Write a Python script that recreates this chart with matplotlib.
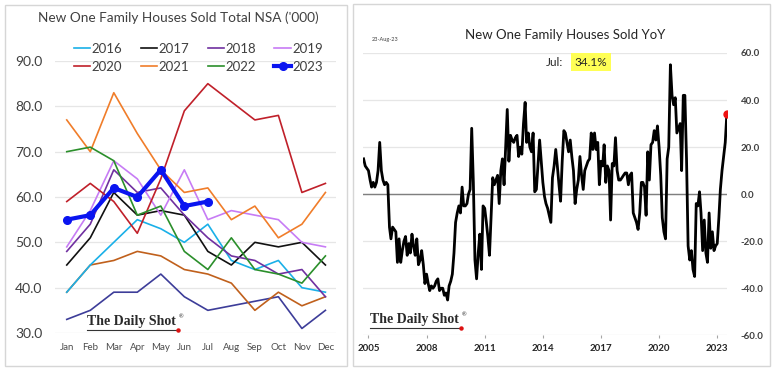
import matplotlib
matplotlib.use("Agg")
import matplotlib.pyplot as plt
from matplotlib.patches import Rectangle
import pandas as pd

plt.rcParams['font.family'] = ['Lato', 'DejaVu Sans']

# ---- left panel data: monthly new one family houses sold, NSA ('000)
months = ["Jan", "Feb", "Mar", "Apr", "May", "Jun", "Jul", "Aug", "Sep", "Oct", "Nov", "Dec"]
sold_2014 = [33, 35, 39, 39, 43, 38, 35, 36, 37, 38, 31, 35]
sold_2015 = [39, 45, 46, 48, 47, 44, 43, 41, 35, 39, 36, 38]
sold_2016 = [39, 45, 50, 55, 53, 50, 54, 46, 44, 46, 40, 39]
sold_2017 = [45, 51, 61, 56, 57, 56, 48, 45, 50, 49, 50, 45]
sold_2018 = [48, 54, 66, 61, 62, 56, 51, 47, 46, 43, 44, 38]
sold_2019 = [49, 57, 68, 64, 56, 66, 55, 57, 56, 55, 50, 49]
sold_2020 = [59, 63, 59, 52, 64, 79, 85, 81, 77, 78, 61, 63]
sold_2021 = [77, 70, 83, 74, 66, 61, 62, 55, 58, 51, 54, 61]
sold_2022 = [70, 71, 68, 56, 58, 48, 44, 51, 44, 43, 41, 47]
sold_2023 = [55, 56, 62, 60, 66, 58, 59]

# ---- right panel data: YoY % change, monthly from Oct 2004 to Jul 2023
yoy_start = "2004-10-01"
yoy = [15, 12, 11,
       10, 6, 3, 5, 3, 5, 10, 22, 10, 6, 4, 5,
       4, -14, -19, -14, -15, -16, -29, -19, -29, -24, -20, -18,
       -26, -21, -25, -17, -22, -26, -19, -30, -28, -24, -30, -38,
       -34, -38, -41, -39, -40, -39, -37, -36, -41, -40, -40, -43,
       -42, -45, -39, -37, -34, -25, -12, -8, -5, -8, 3, -5,
       -5, -4, 0, 2, 28, 5, -28, -36, -25, -17, -32, -5,
       -6, -12, -18, -26, -10, 7, 4, 6, 8, -4, 10, 15,
       4, 20, 36, 14, 25, 23, 22, 24, 25, 16, 20, 17,
       30, 39, 22, 26, 20, 18, 26, 1, 2, 12, 23, 14,
       5, -1, -4, -6, -9, -12, 7, 12, 19, 12, 4, -3,
       14, 27, 26, 22, 18, 23, 16, 10, -4, 2, 6, 16,
       8, 2, 10, 12, 14, 15, 26, 19, 26, 19, 22, 4,
       14, 12, 21, 5, 12, 10, -11, 13, 12, 24, 10, 6,
       6, 7, 8, 9, 9, 4, 8, 9, -8, -10, -12, -15,
       -8, 5, 5, 3, -9, 18, 6, 21, 22, 27, 23, 29,
       20, 8, -10, -16, -19, 15, 20, 55, 42, 38, 41, 26,
       28, 30, 10, 42, 42, 15, -22, -28, -24, -32, -35, -4,
       -5, 1, -8, -24, -11, -25, -29, -8, -23, -16, -24, -22,
       -21, -10, 2, 10, 16, 22, 34.1]
yoy_ticks = ["2005", "2008", "2011", "2014", "2017", "2020", "2023"]

W, H = 780, 373
fig = plt.figure(figsize=(W / 100, H / 100), dpi=100)

def fx(px):
    return px / W

def fy(py):
    return 1 - py / H

# panel frames
fig.patches.append(Rectangle((fx(5), fy(366)), fx(342), 361 / H, transform=fig.transFigure,
                             fill=False, ec="#d6d6d6", lw=1))
fig.patches.append(Rectangle((fx(353), fy(366)), fx(417), 362 / H, transform=fig.transFigure,
                             fill=False, ec="#d6d6d6", lw=1))

# ================= left panel =================
ax1 = fig.add_axes([fx(55), fy(333), fx(336 - 55), (333 - 61) / H])
series = [
    (None, sold_2014, "#3d3d99"),
    (None, sold_2015, "#c0601c"),
    ("2016", sold_2016, "#1ab0e8"),
    ("2017", sold_2017, "#111111"),
    ("2018", sold_2018, "#7030a0"),
    ("2019", sold_2019, "#c77cf5"),
    ("2020", sold_2020, "#c0202a"),
    ("2021", sold_2021, "#f07d2a"),
    ("2022", sold_2022, "#2b8f2b"),
]
handles = {}
for lab, vals, col in series:
    ln, = ax1.plot(months[:len(vals)], vals, color=col, lw=1.2)
    if lab:
        ln.set_label(lab)
        handles[lab] = ln
ln, = ax1.plot(months[:len(sold_2023)], sold_2023, color="#0a14f0", lw=3.0,
               marker="o", ms=5.5, label="2023")
handles["2023"] = ln

ax1.set_ylim(30, 90)
ax1.set_xlim(-0.5, 11.45)
ax1.set_yticks(range(30, 91, 10))
ax1.set_yticklabels([f"{v:.1f}" for v in range(30, 91, 10)])
ax1.grid(axis="y", color="#e6e6e6", lw=0.9)
ax1.set_axisbelow(True)
for s in ax1.spines.values():
    s.set_visible(False)
ax1.tick_params(axis="y", length=0, labelsize=10, labelcolor="#404040", pad=9)
ax1.tick_params(axis="x", length=0, labelsize=7, labelcolor="#4d4d4d", pad=7)

# legend is filled column by column: order so rows read 2016..2019 / 2020..2023
leg_order = ["2016", "2020", "2017", "2021", "2018", "2022", "2019", "2023"]
ax1.legend(handles=[handles[k] for k in leg_order], loc="upper left",
           bbox_to_anchor=(fx(67), fy(36)), bbox_transform=fig.transFigure, ncol=4,
           frameon=False, fontsize=9.5, handlelength=1.25, handletextpad=0.1,
           columnspacing=1.4, labelspacing=0.45, borderpad=0, labelcolor="#404040")

fig.text(fx(178), fy(18), "New One Family Houses Sold Total NSA ('000)", ha="center",
         va="center", fontsize=9.8, color="#404040")

# ================= right panel =================
ax2 = fig.add_axes([fx(363), fy(335.3), fx(727 - 363), (335.3 - 53) / H])
dates = pd.date_range(yoy_start, periods=len(yoy), freq="MS")
ax2.plot(dates, yoy, color="black", lw=2.0, zorder=3)
ax2.plot(dates[-1:], yoy[-1:], "o", color="#ee1111", ms=5, zorder=4)
ax2.axhline(0, color="#7f7f7f", lw=1.0, zorder=2)
ax2.set_ylim(-60, 60)
ax2.set_xlim(pd.Timestamp("2004-09-20"), dates[-1] + pd.Timedelta(days=3))
ax2.set_yticks(range(-60, 61, 20))
ax2.set_yticklabels([f"{v:.1f}" for v in range(-60, 61, 20)])
ax2.yaxis.tick_right()
ax2.set_xticks([pd.Timestamp(f"{y}-01-01") for y in yoy_ticks])
ax2.set_xticklabels(yoy_ticks)
ax2.grid(axis="y", color="#e6e6e6", lw=0.9)
ax2.set_axisbelow(True)
for s in ax2.spines.values():
    s.set_visible(False)
ax2.tick_params(axis="y", length=0, labelsize=7, labelcolor="#404040", pad=10)
ax2.tick_params(axis="x", length=2.5, color="#a6a6a6", labelsize=7, labelcolor="#262626", pad=4)
for t in ax2.get_xticklabels() + ax2.get_yticklabels():
    t.set_fontweight("bold")

fig.text(fx(565), fy(35), "New One Family Houses Sold YoY", ha="center", va="center",
         fontsize=9.5, color="#262626")
fig.text(fx(372), fy(40), "23-Aug-23", ha="left", va="center", fontsize=4, color="#404040")
fig.text(fx(555), fy(62), "Jul:", ha="center", va="center", fontsize=8.5, color="#262626")
fig.text(fx(591), fy(62), "34.1%", ha="center", va="center", fontsize=8.5, color="#262626",
         bbox=dict(boxstyle="square,pad=0.3", fc="#ffff55", ec="none"))

# watermark
for x0, y0 in [(87, 322), (370, 320)]:
    fig.text(fx(x0), fy(y0), "The Daily Shot", ha="left", va="center", fontsize=10,
             family="Liberation Serif", weight="bold", color="#2a2a2a")
    fig.text(fx(x0 + 92), fy(y0 - 5), "\u00ae", ha="left", va="center", fontsize=4,
             color="#333333")
    fig.add_artist(plt.Line2D([fx(x0), fx(x0 + 90)], [fy(y0 + 8)] * 2, color="#333333", lw=0.8))
    fig.add_artist(plt.Line2D([fx(x0 + 91)], [fy(y0 + 8)], marker="o", ms=2.2, color="#dd1111"))

fig.savefig("out.png", dpi=100)
